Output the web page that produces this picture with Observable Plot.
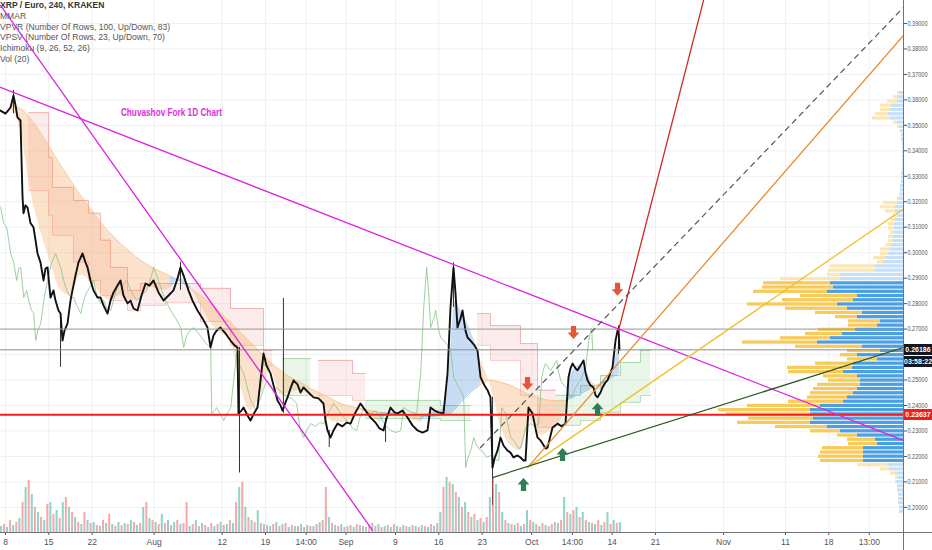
<!DOCTYPE html>
<html><head><meta charset="utf-8">
<script src="https://cdn.jsdelivr.net/npm/d3@7"></script>
<script src="https://cdn.jsdelivr.net/npm/@observablehq/plot@0.6"></script>
<style>
html,body{margin:0;padding:0;background:#fff;}
#wrap{position:relative;width:932px;height:550px;overflow:hidden;font-family:"Liberation Sans Narrow","Liberation Sans",Arial,sans-serif;}
#wrap > svg, #wrap > .layer{position:absolute;left:0;top:0;}
.lg{position:absolute;left:4px;top:4px;font-size:9.5px;line-height:10.8px;color:#555;white-space:nowrap;transform:scaleX(0.9);transform-origin:0 0;}
.lg div:first-child{color:#333;font-weight:bold;}
.pl{position:absolute;left:904px;width:28px;height:11px;font-size:7px;line-height:11px;color:#fff;text-align:center;font-weight:bold;overflow:hidden;}
.axl{position:absolute;background:#6f737c;}
</style></head><body><div id="wrap"></div>
<script>
// ---------- DATA ----------
// time in days since 2019-07-08 00:00 ; prices in EUR
const xTickDays   = [0, 7, 14, 24, 35, 42, 48.58, 55, 63, 70, 77, 85, 91.58, 98, 105, 116, 126, 133, 139.54];
const xTickLabels = ["8","15","22","Aug","12","19","14:00","Sep","9","16","23","Oct","14:00","14","21","Nov","11","18","13:00"];
const yTicks = [0.20,0.21,0.22,0.23,0.24,0.25,0.26,0.27,0.28,0.29,0.30,0.31,0.32,0.33,0.34,0.35,0.36,0.37,0.38,0.39];
const yTicksHiddenLabel = [0.26]; // covered by the last-price tag

const closeDay = [-0.81,0,0.81,1.29,1.62,1.94,2.42,2.75,2.91,3.23,3.55,4.04,4.52,4.85,5.17,5.65,6.14,6.46,6.79,7.27,7.75,8.08,8.56,8.89,9.21,9.53,10.02,10.50,10.82,11.31,11.79,12.44,12.92,13.25,13.73,14.22,14.86,15.35,15.83,16.48,16.96,17.45,18.09,18.58,19.06,19.71,20.19,20.68,21.32,21.97,22.62,23.26,23.91,24.72,25.53,26.33,27.14,27.79,28.27,28.76,29.56,30.21,31.02,31.83,32.63,33.12,33.60,34.09,34.73,35.54,36.35,37.00,37.48,37.64,38.13,38.45,39.10,39.58,40.23,40.71,41.20,41.68,42.16,42.81,43.30,43.94,44.43,44.75,45.23,45.56,46.04,46.53,47.17,47.66,48.14,48.95,49.76,50.57,51.37,51.70,52.02,52.50,52.99,53.64,54.44,55.09,55.74,56.54,57.35,58.16,58.97,59.77,60.42,61.07,61.55,62.20,62.84,63.33,64.14,64.94,65.75,66.56,67.37,68.17,68.66,69.31,69.95,70.76,71.41,71.89,72.37,72.70,73.02,73.51,73.83,74.31,74.64,75.12,75.77,76.25,76.74,77.38,77.87,78.35,78.68,79.00,79.48,79.97,80.45,81.10,81.58,82.07,82.71,83.20,83.68,84.01,84.49,84.81,85.14,85.62,85.95,86.43,86.75,87.24,87.56,88.05,88.37,88.85,89.18,89.82,90.47,90.95,91.28,91.60,92.08,92.41,92.89,93.38,93.70,94.02,94.51,94.99,95.32,95.64,96.12,96.45,96.93,97.25,97.74,98.06,98.55,98.87,99.03,99.19];
const close = [0.3558,0.3546,0.3570,0.3617,0.3578,0.3531,0.3519,0.3219,0.3155,0.3186,0.3178,0.3116,0.3100,0.3049,0.2997,0.2962,0.2891,0.2938,0.2942,0.2824,0.2852,0.2812,0.2773,0.2761,0.2655,0.2694,0.2722,0.2812,0.2852,0.2911,0.2962,0.2997,0.2962,0.2942,0.2891,0.2852,0.2824,0.2824,0.2793,0.2761,0.2812,0.2844,0.2871,0.2891,0.2832,0.2801,0.2812,0.2781,0.2773,0.2832,0.2879,0.2871,0.2891,0.2844,0.2812,0.2832,0.2852,0.2899,0.2942,0.2911,0.2852,0.2812,0.2773,0.2742,0.2706,0.2628,0.2675,0.2694,0.2706,0.2683,0.2655,0.2636,0.2628,0.2369,0.2380,0.2392,0.2361,0.2341,0.2373,0.2392,0.2499,0.2604,0.2557,0.2526,0.2479,0.2420,0.2400,0.2380,0.2412,0.2432,0.2467,0.2499,0.2483,0.2451,0.2471,0.2451,0.2432,0.2428,0.2408,0.2341,0.2302,0.2274,0.2302,0.2329,0.2318,0.2333,0.2329,0.2373,0.2408,0.2380,0.2353,0.2333,0.2310,0.2302,0.2349,0.2392,0.2373,0.2369,0.2380,0.2353,0.2322,0.2302,0.2294,0.2302,0.2392,0.2380,0.2373,0.2369,0.2526,0.2785,0.2942,0.2840,0.2706,0.2742,0.2773,0.2694,0.2667,0.2655,0.2636,0.2616,0.2511,0.2479,0.2460,0.2432,0.2156,0.2192,0.2223,0.2274,0.2243,0.2223,0.2215,0.2196,0.2204,0.2196,0.2184,0.2184,0.2392,0.2380,0.2369,0.2310,0.2274,0.2263,0.2251,0.2231,0.2235,0.2282,0.2314,0.2322,0.2329,0.2318,0.2329,0.2511,0.2546,0.2565,0.2546,0.2538,0.2557,0.2577,0.2530,0.2499,0.2479,0.2471,0.2440,0.2432,0.2451,0.2471,0.2491,0.2499,0.2530,0.2550,0.2655,0.2694,0.2702,0.2619];

// long wicks: day, high, low
const wickDay  = [1.29, 8.89, 28.27, 37.80, 44.90, 52.30, 61.40, 72.37, 78.68, 99.03];
const wickHigh = [0.3637,0.2761,0.2962,0.2628,0.2820,0.2302,0.2349,0.2960,0.2432,0.2713];
const wickLow  = [0.3546,0.2550,0.2852,0.2135,0.2369,0.2235,0.2255,0.2785,0.2007,0.2600];

// Ichimoku cloud (segment id, day, top, bottom, bullish)
const cloudSeg  = [1,1,1,1,1,1,1,1,1,1,1,1,1,1, 2,2, 3,3,3, 4,4,4, 5,5,5,5,5, 6,6,6,6,6,6];
const cloudDay  = [3.72,6.95,7.59,10.99,13.41,15.35,16.96,19.71,21.81,25.85,31.50,36.35,41.68,43.13, 44.75,49.27, 50.57,56.06,58.16, 58.16,70.27,75.12, 76.25,78.35,83.20,85.95,88.85, 88.85,92.89,96.12,99.35,102.58,104.20];
const cloudTop  = [0.3550,0.3374,0.3256,0.3205,0.3155,0.3049,0.2942,0.2852,0.2879,0.2879,0.2860,0.2781,0.2616,0.2616, 0.2584,0.2584, 0.2577,0.2526,0.2526, 0.2420,0.2400,0.2400, 0.2761,0.2714,0.2643,0.2460,0.2460, 0.2440,0.2479,0.2518,0.2569,0.2616,0.2616];
const cloudBot  = [0.3244,0.3146,0.3068,0.2962,0.2891,0.2832,0.2812,0.2773,0.2793,0.2805,0.2730,0.2636,0.2557,0.2557, 0.2439,0.2439, 0.2439,0.2420,0.2420, 0.2349,0.2341,0.2341, 0.2636,0.2577,0.2439,0.2314,0.2314, 0.2322,0.2341,0.2373,0.2412,0.2439,0.2439];
const cloudBull = [0,0,0,0,0,0,0,0,0,0,0,0,0,0, 1,1, 0,0,0, 1,1,1, 0,0,0,0,0, 1,1,1,1,1,1];

// MMAR ribbon: fast and slow edges
const ribDay  = [0.81,2.42,4.04,5.65,7.27,8.89,10.50,12.12,13.73,15.35,16.96,18.58,20.19,21.81,23.42,25.04,26.66,28.27,29.89,31.50,33.12,34.73,36.35,37.96,39.58,41.20,42.81,44.43,46.04,47.66,49.27,50.89,52.50,54.12,55.74,57.35,58.97,60.58,62.20,63.81,65.43,67.04,68.66,70.27,71.41,71.89,72.70,73.51,75.12,76.74,78.35,79.97,81.58,83.20,84.81,86.43,88.05,89.66,90.47,91.28,92.89,94.51,96.12,97.74,99.19];
const ribSlow = [0.3578,0.3566,0.3527,0.3472,0.3409,0.3343,0.3284,0.3225,0.3174,0.3119,0.3076,0.3036,0.3001,0.2970,0.2946,0.2926,0.2907,0.2887,0.2860,0.2832,0.2801,0.2765,0.2726,0.2687,0.2648,0.2608,0.2569,0.2538,0.2510,0.2491,0.2467,0.2447,0.2428,0.2408,0.2396,0.2388,0.2380,0.2373,0.2369,0.2365,0.2361,0.2357,0.2357,0.2361,0.2365,0.2369,0.2388,0.2412,0.2451,0.2483,0.2499,0.2491,0.2479,0.2460,0.2440,0.2428,0.2420,0.2420,0.2420,0.2428,0.2447,0.2467,0.2487,0.2507,0.2530];
const ribFast = [0.3566,0.3480,0.3244,0.3087,0.2962,0.2852,0.2832,0.2911,0.2891,0.2840,0.2812,0.2832,0.2812,0.2820,0.2864,0.2852,0.2860,0.2899,0.2868,0.2793,0.2726,0.2687,0.2663,0.2479,0.2380,0.2440,0.2538,0.2440,0.2451,0.2460,0.2440,0.2420,0.2341,0.2333,0.2341,0.2380,0.2361,0.2333,0.2373,0.2369,0.2349,0.2333,0.2373,0.2380,0.2460,0.2616,0.2812,0.2773,0.2695,0.2577,0.2479,0.2322,0.2243,0.2223,0.2341,0.2282,0.2302,0.2341,0.2380,0.2518,0.2557,0.2499,0.2460,0.2518,0.2655];

// Volume, one bar per half day from day -0.75 (negative = down candle)
const volStart = -0.75, volStep = 0.5;
const volume = [6,-8,5,-12,7, -10,14,-30,45,-52,38, -25,20,-15,12,-28, 30,-18,22,-14,30, -35,25,-20,15,-10, 8,-20,12,-9,10, -7,6,-12,9,-18, 8,-6,10,-7,9, -8,12,-10,7,-9, 25,-30,14,-12,10, -8,18,-9,12,-7, 10,-12,8,-9,-30, 6,-8,12,-6,9, -7,5,-9,6,-8, 10,-7,8,-12,9, -30,45,-50,25,-15, 12,-10,22,-9,8, -7,6,-8,10,-6, 8,-9,5,-7,6, -6,8,-5,7,-6, 6,-8,10,-12,-45, 15,-9,7,-6,8, -5,6,-7,5,-8, 7,-6,5,-7,9, -6,8,-5,6,-7, 5,-8,6,-5,7, -6,5,-7,6,-5, 7,-6,5,-8,6, -9,20,-45,55,-50, 48,-40,35,-25,30, -20,15,-18,12,-14, 10,-15,35,-55,48, -40,20,-12,9,-8, 7,-9,6,-8,22, -12,10,-8,6,-9, 7,-6,8,-10,9, -12,35,-20,18,-22, 25,-15,20,-12,10, -9,8,-12,7,-10, 20,-8,12,-9,10];

// Volume profile (100 rows), up and down volume per row
const rowLow = 0.1975, rowStep = 0.00166;
const profileUp   = [4,4,5,5,5,6,6,7,5,8, 14,16,40,40,40,40,26,28,46,63, 76,93,90,93,93,83,60,56,50,46, 43,43,46,60,51,50,26,46,23,41, 86,73,61,48,26,23,46,41,56,66, 50,46,76,70,73,63,63,28,28,20, 18,15,14,12,10,10,9,9,9,8, 6,8,8,6,4,3,3,3,2,2, 2,1,1,1,1,1,1,1,2,2, 3,4,6,13,15,13,12,6,6,4];
const profileDown = [0,0,0,0,0,0,0,1,3,5, 9,30,43,45,43,41,29,28,20,30, 52,73,65,84,92,73,55,40,43,44, 43,32,34,55,65,38,30,17,33,67, 75,50,37,37,29,32,22,47,62,90, 71,57,74,71,67,60,13,47,45,6, 12,8,9,6,5,5,4,6,6,5, 4,10,15,14,2,1,0,0,0,0, 0,0,0,0,0,0,0,0,0,0, 0,2,4,18,13,10,11,10,4,2];
const valueAreaRows = [12, 54];

// horizontal lines
const hLineP     = [0.23637, 0.26186, 0.27];
const hLineColor = ["#f31b1b", "#8c8c8c", "#9d9d9d"];
const hLineW     = [2, 1, 1];

// trend lines: id, day, price
const trendId   = ["magA","magA","magB","magB","red","red","dash","dash","orange","orange","yellow","yellow","green","green"];
const trendDay  = [-0.81,145.07, -0.81,59.29, 99.03,112.76, 76.74,145.07, 84.33,145.07, 84.33,145.07, 78.68,145.07];
const trendP    = [0.3649,0.2263, 0.3971,0.1910, 0.2694,0.3990, 0.2235,0.3963, 0.2156,0.3853, 0.2156,0.3172, 0.2117,0.2628];
const trendColor = {magA:"#dc22e6", magB:"#dc22e6", red:"#d12a22", dash:"#555", orange:"#ec8a2c", yellow:"#f1bf2c", green:"#2f5a22"};

// arrows
const downArrowDay = [84.33, 91.76, 98.87], downArrowP = [0.2486, 0.2687, 0.2856];
const upArrowDay   = [83.68, 89.98, 95.64], upArrowP   = [0.2090, 0.2208, 0.2385];

// annotation
const annoText = ["Chuvashov Fork 1D Chart"], annoDay = [26.8], annoP = [0.3550];
const legendLines = ["XRP / Euro, 240, KRAKEN","MMAR","VPVR (Number Of Rows, 100, Up/Down, 83)","VPSV (Number Of Rows, 23, Up/Down, 70)","Ichimoku (9, 26, 52, 26)","Vol (20)"];
const priceLabels = [{p:0.26186, t:"0.26186", bg:"#131722"}, {p:0.26186, t:"03:58:22", bg:"#131722", dy:12}, {p:0.23637, t:"0.23637", bg:"#f31b1b"}];

// ---------- BUILD ----------
const W = 932, H = 550;
const frame = {width: W, height: H, marginLeft: 0, marginRight: 29, marginTop: 0, marginBottom: 18};
const xDomain = [-0.808, 145.07];
const yDomain = [0.19014, 0.39902];
const FONT = '"Liberation Sans Narrow","Liberation Sans",Arial,sans-serif';
const baseStyle = {background: "transparent", overflow: "visible", fontFamily: FONT};

const price = closeDay.map((d, i) => ({day: d, p: close[i]}));
const wicks = wickDay.map((d, i) => ({day: d, hi: wickHigh[i], lo: wickLow[i]}));
const cloud = cloudDay.map((d, i) => ({day: d, top: cloudTop[i], bot: cloudBot[i], seg: cloudSeg[i], bull: cloudBull[i]}));
const rib = ribDay.map((d, i) => ({day: d, slow: ribSlow[i], fast: ribFast[i]}));
const ribRuns = []; let run = 0, prevUp = null;
rib.forEach((r, i) => {
  const up = r.fast > r.slow;
  if (prevUp !== null && up !== prevUp) { run++; ribRuns.push({...rib[i - 1], run, up}); }
  ribRuns.push({...r, run, up}); prevUp = up;
});
const vols = volume.map((v, i) => ({day: volStart + i * volStep, v: Math.abs(v), up: v > 0}));
const rows = profileUp.map((u, i) => ({lo: rowLow + i * rowStep, hi: rowLow + (i + 1) * rowStep, up: u, dn: profileDown[i], va: i >= valueAreaRows[0] && i <= valueAreaRows[1]}));
const trends = trendId.map((id, i) => ({id, day: trendDay[i], p: trendP[i]}));
const labelMap = new Map(xTickDays.map((d, i) => [d, xTickLabels[i]]));

const wrap = document.getElementById("wrap");

// main layer
const plotM = Plot.plot({
  ...frame, style: {...baseStyle, fontSize: "8.5px", color: "#50535e"},
  x: {domain: xDomain, ticks: xTickDays, tickFormat: d => labelMap.get(d), tickSize: 3, tickPadding: 3, label: null},
  y: {domain: yDomain, axis: "right", ticks: yTicks, tickFormat: d => yTicksHiddenLabel.includes(d) ? "" : d.toFixed(5), tickSize: 3, tickPadding: 1, label: null},
  color: {type: "identity"},
  marks: [
    Plot.ruleX(xTickDays, {stroke: "#eef0f3"}),
    Plot.ruleY(yTicks, {stroke: "#eef0f3"}),
    Plot.areaY(cloud, {x: "day", y1: "bot", y2: "top", z: "seg", fill: d => d.bull ? "#a8dca8" : "#f7b3b3", fillOpacity: 0.25, curve: "step-after"}),
    Plot.line(cloud, {x: "day", y: "top", z: "seg", stroke: d => d.bull ? "#9acf9a" : "#f0a0a0", strokeWidth: 0.8, curve: "step-after"}),
    Plot.line(cloud, {x: "day", y: "bot", z: "seg", stroke: d => d.bull ? "#9acf9a" : "#f4b6b6", strokeWidth: 0.7, curve: "step-after"}),
    Plot.areaY(ribRuns, {x: "day", y1: "slow", y2: "fast", z: "run", fill: d => d.up ? "#4a8fd8" : "#f5a050", fillOpacity: 0.3, curve: "monotone-x"}),
    Plot.line(ribRuns, {x: "day", y: "slow", z: "run", stroke: d => d.up ? "#8ab8e8" : "#f6c08a", strokeWidth: 0.8, curve: "monotone-x"}),
    Plot.line(price, {x: d => d.day - 4.33, y: "p", stroke: "#86c486", strokeWidth: 0.8}),
    Plot.ruleX(wicks, {x: "day", y1: "lo", y2: "hi", stroke: "#333", strokeWidth: 1}),
    Plot.line(price, {x: "day", y: "p", stroke: "#111", strokeWidth: 1.9})
  ]
});
plotM.querySelectorAll('g[aria-label="y-axis tick label"] text, g[aria-label="y-axis"] text').forEach(t => {
  t.setAttribute("font-size", "7");
  if (t.textContent.length) { t.setAttribute("textLength", "20"); t.setAttribute("lengthAdjust", "spacingAndGlyphs"); }
});
wrap.appendChild(plotM);

// volume layer
const plotV = Plot.plot({
  ...frame, marginTop: 460, style: baseStyle,
  x: {domain: xDomain, axis: null}, y: {domain: [0, 72], axis: null}, color: {type: "identity"},
  marks: [Plot.ruleX(vols, {x: "day", y1: 0, y2: "v", stroke: d => d.up ? "#26a69a" : "#ef5350", strokeOpacity: 0.5, strokeWidth: 2})]
});
wrap.appendChild(plotV);

// volume profile layer
const plotP = Plot.plot({
  ...frame, style: baseStyle,
  x: {domain: [903, 0], axis: null}, y: {domain: yDomain, axis: null}, color: {type: "identity"},
  marks: [
    Plot.rect(rows, {x1: 0, x2: "up", y1: "lo", y2: "hi", fill: d => d.va ? "#4b9fe4" : "#c6e1f7", insetTop: 0.5, insetBottom: 0.5}),
    Plot.rect(rows.filter(r => r.dn > 0), {x1: "up", x2: d => d.up + d.dn, y1: "lo", y2: "hi", fill: d => d.va ? "#f8c95b" : "#fce6b4", insetTop: 0.5, insetBottom: 0.5})
  ]
});
wrap.appendChild(plotP);

// legend
const lg = document.createElement("div"); lg.className = "lg layer";
lg.innerHTML = legendLines.map(t => `<div>${t}</div>`).join("");
wrap.appendChild(lg);

// arrow symbols
const arrowDown = {draw(ctx, size) { const r = Math.sqrt(size / Math.PI);
  ctx.moveTo(-0.4*r, -r); ctx.lineTo(0.4*r, -r); ctx.lineTo(0.4*r, 0); ctx.lineTo(0.9*r, 0); ctx.lineTo(0, r); ctx.lineTo(-0.9*r, 0); ctx.lineTo(-0.4*r, 0); ctx.closePath(); }};
const arrowUp = {draw(ctx, size) { const r = Math.sqrt(size / Math.PI);
  ctx.moveTo(-0.4*r, r); ctx.lineTo(0.4*r, r); ctx.lineTo(0.4*r, 0); ctx.lineTo(0.9*r, 0); ctx.lineTo(0, -r); ctx.lineTo(-0.9*r, 0); ctx.lineTo(-0.4*r, 0); ctx.closePath(); }};

// drawings layer
const plotL = Plot.plot({
  ...frame, style: baseStyle,
  x: {domain: xDomain, axis: null}, y: {domain: yDomain, axis: null}, color: {type: "identity"},
  marks: [
    Plot.ruleY(hLineP.map((p, i) => ({p, c: hLineColor[i], w: hLineW[i]})), {y: "p", stroke: "c", strokeWidth: "w"}),
    Plot.line(trends.filter(t => t.id !== "dash"), {x: "day", y: "p", z: "id", stroke: d => trendColor[d.id], strokeWidth: 1.3, clip: true}),
    Plot.line(trends.filter(t => t.id === "dash"), {x: "day", y: "p", stroke: trendColor.dash, strokeWidth: 1.2, strokeDasharray: "5,5", clip: true}),
    Plot.dot(downArrowDay.map((d, i) => ({day: d, p: downArrowP[i]})), {x: "day", y: "p", symbol: arrowDown, r: 6.5, fill: "#e2573b", stroke: "none"}),
    Plot.dot(upArrowDay.map((d, i) => ({day: d, p: upArrowP[i]})), {x: "day", y: "p", symbol: arrowUp, r: 6.5, fill: "#2e7d55", stroke: "none"}),
    Plot.text(annoText.map((t, i) => ({t, day: annoDay[i], p: annoP[i]})), {x: "day", y: "p", text: "t", fill: "#e02de0", fontWeight: "bold", fontSize: 10, fontFamily: FONT})
  ]
});
plotL.querySelectorAll('g[aria-label="text"] text').forEach(t => { t.setAttribute("textLength", "101"); t.setAttribute("lengthAdjust", "spacingAndGlyphs"); });
wrap.appendChild(plotL);

// axis lines
const hl = document.createElement("div"); hl.className = "axl"; hl.style.cssText = "left:0;top:532px;width:932px;height:1px;"; wrap.appendChild(hl);
const vl = document.createElement("div"); vl.className = "axl"; vl.style.cssText = "left:903px;top:0;width:1px;height:550px;"; wrap.appendChild(vl);

// price labels on the axis
const ys = plotL.scale("y");
priceLabels.forEach(l => {
  const d = document.createElement("div"); d.className = "pl";
  d.style.top = (ys.apply(l.p) - 5.5 + (l.dy || 0)) + "px"; d.style.background = l.bg; d.textContent = l.t;
  wrap.appendChild(d);
});
</script></body></html>
